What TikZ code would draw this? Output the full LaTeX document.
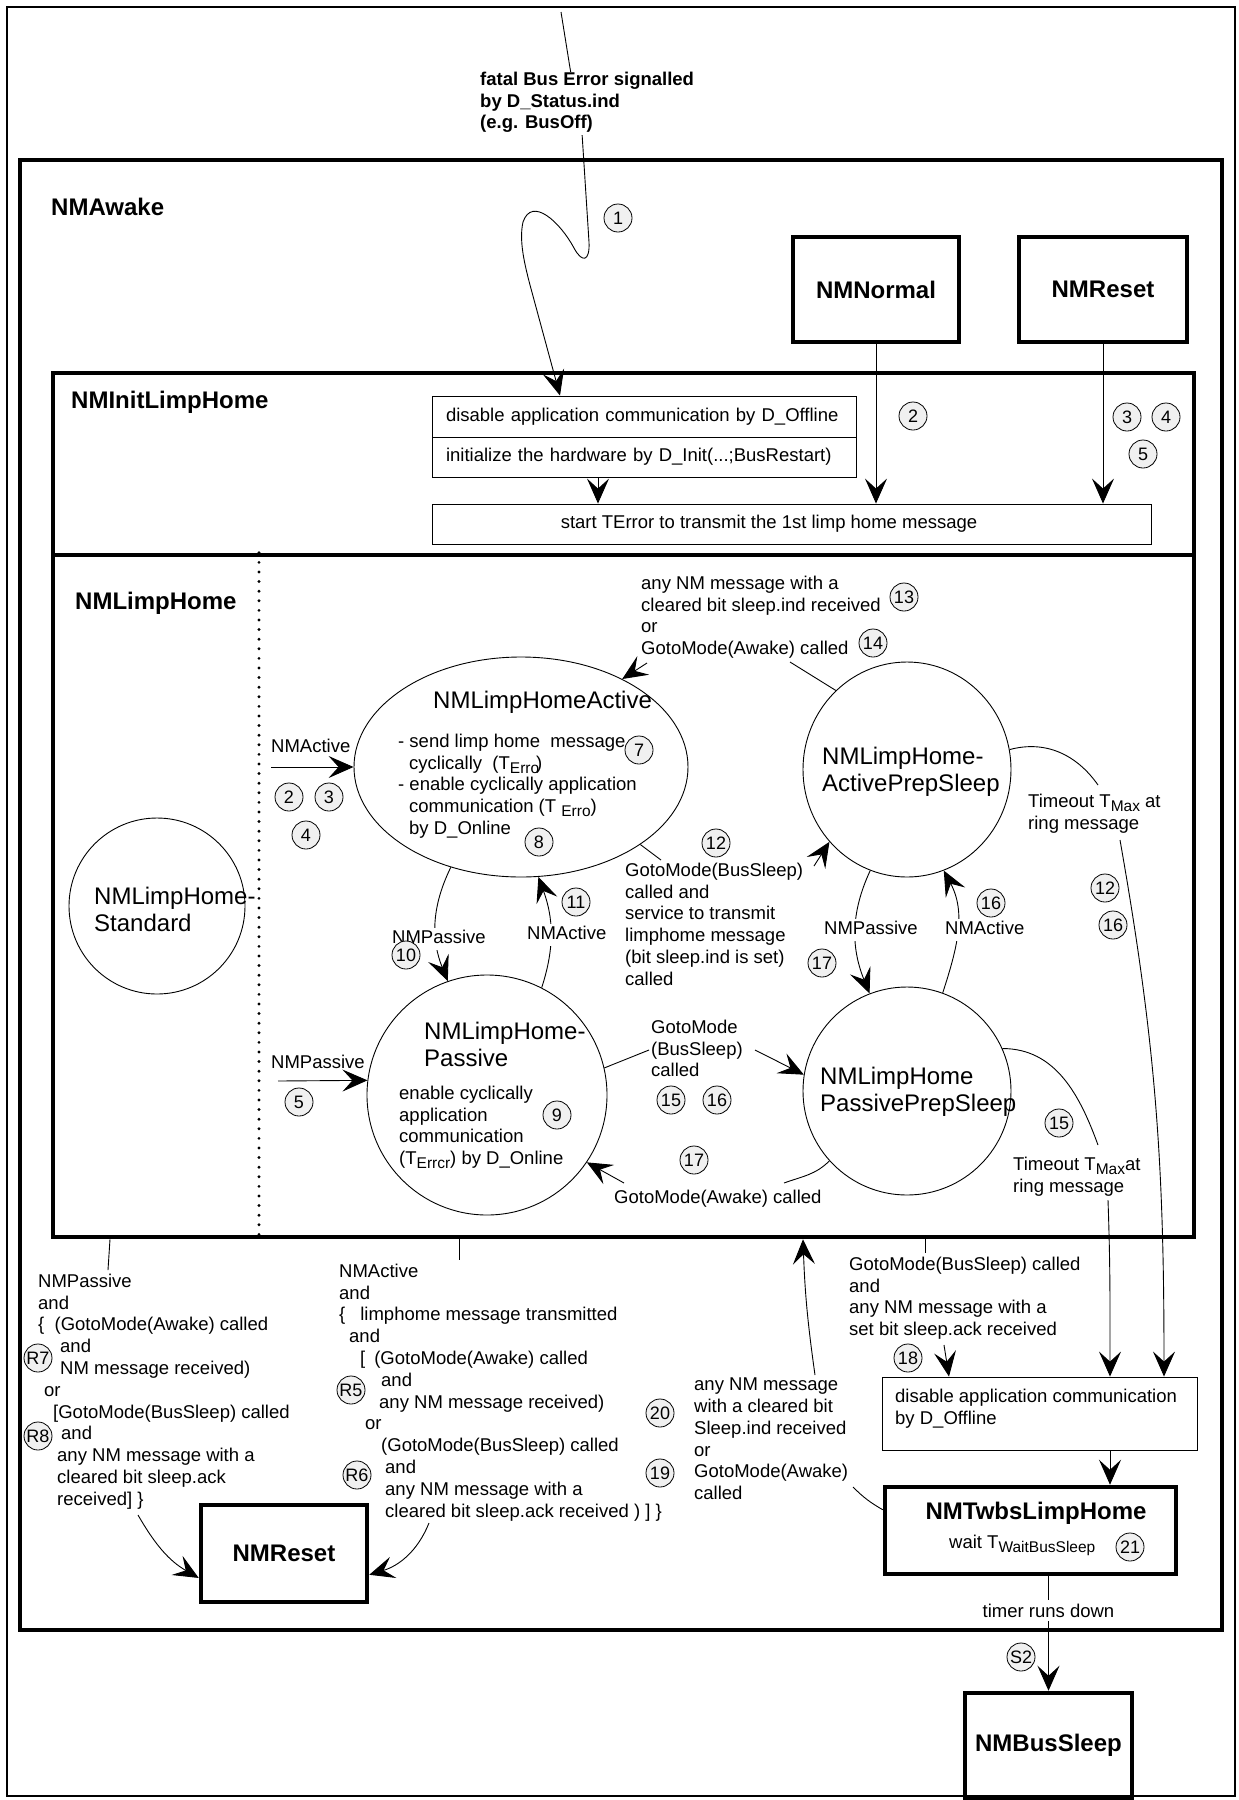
\documentclass[tikz,border=0pt]{standalone}
\usepackage{fontspec}
\setmainfont{Liberation Sans}
\usetikzlibrary{arrows.meta,shapes.geometric,calc}
\newcommand\fsn{\fontsize{18.5}{21.8}\selectfont}
\newcommand\fsb{\fontsize{24}{27}\selectfont}
\newcommand\lowsub[1]{\raisebox{-4pt}{\fontsize{15.5}{15.5}\selectfont #1}}
\definecolor{numfill}{gray}{0.94}

\begin{document}
\begin{tikzpicture}[x=1pt,y=-1pt,
  ln/.style={line width=0.9pt},
  arr/.style={-{Stealth[length=25pt,width=22pt,inset=10pt]}},
  bigbox/.style={draw, line width=4.5pt, rectangle, inner sep=0pt},
  thinbox/.style={draw, line width=0.9pt, rectangle, inner sep=0pt},
  stnode/.style={draw, line width=0.9pt, inner sep=0pt},
  lbl/.style={anchor=north west, inner sep=0pt, align=left, font=\fsn, yshift=9.3pt, execute at begin node=\strut},
  ttl/.style={anchor=north west, inner sep=0pt, align=left, font=\fsb, yshift=10pt, execute at begin node=\strut},
  hdr/.style={anchor=west, inner sep=0pt, font=\fsb\bfseries},
  num/.style={circle, draw, line width=0.8pt, fill=numfill, inner sep=0pt, minimum size=28pt, font=\fontsize{18}{18}\selectfont},
  dotline/.style={line width=3.2pt, line cap=round, dash pattern=on 0pt off 9.6pt}
]
\fill[white] (0,0) rectangle (1239,1800);
\useasboundingbox (0,0) rectangle (1239,1800);

% page frame
\draw[line width=2pt] (7,7) rectangle (1235,1796);

% helper x positions
\coordinate (xDis) at (560,0);
\coordinate (xIni) at (598,0);
\coordinate (xDot) at (259,0);
\coordinate (xL) at (110,0);
\coordinate (xM) at (459,0);
\coordinate (x20) at (803,0);
\coordinate (xA) at (949,0);
\coordinate (xB) at (1110,0);
\coordinate (xC) at (1164,0);

% superstates
\node[bigbox, minimum width=1202pt, minimum height=1470pt] (awake) at (621,895) {};
\node[bigbox, minimum width=1141pt, minimum height=182pt] (init) at (623.5,464) {};
\node[bigbox, minimum width=1141pt, minimum height=682pt] (lh) at (623.5,896) {};
\node[hdr] (tAwake) at (51,207) {NMAwake};
\node[hdr] (tInit) at (71,402) {NMInitLimpHome};
\node[hdr] (tLh) at (75,603) {NMLimpHome};

% other states
\node[bigbox, minimum width=166pt, minimum height=105pt, font=\fsb\bfseries] (nmn) at (876,289.5) {NMNormal};
\node[bigbox, minimum width=168pt, minimum height=105pt, font=\fsb\bfseries] (nmr) at (1103,289.5) {NMReset};
\node[bigbox, minimum width=166pt, minimum height=97pt, font=\fsb\bfseries] (nmr2) at (284,1553.5) {NMReset};
\node[bigbox, minimum width=167pt, minimum height=105pt, font=\fsb\bfseries] (nmbs) at (1048.5,1745.5) {NMBusSleep};
\node[bigbox, minimum width=291pt, minimum height=87pt] (tw) at (1030.5,1530.5) {};
\node[font=\fsb\bfseries, inner sep=0pt] (twT) at (1036,1513) {NMTwbsLimpHome};
\node[anchor=west, font=\fsn, inner sep=0pt] (twW) at (949,1545) {wait T\lowsub{WaitBusSleep}};

% init actions
\node[thinbox, minimum width=424pt, minimum height=41pt, text width=396pt, align=left, font=\fsn] (dis1) at (644,416.5) {disable application communication by D\_Offline};
\node[thinbox, minimum width=424pt, minimum height=40pt, text width=396pt, align=left, font=\fsn] (ini) at (644,457) {initialize the hardware by D\_Init(...;BusRestart)};
\node[thinbox, minimum width=719pt, minimum height=40pt] (st) at (791.5,524) {};
\node[font=\fsn, inner sep=0pt] (stT) at (769,524) {start TError to transmit the 1st limp home message};

% sleep preparation action
\node[thinbox, minimum width=315pt, minimum height=73pt] (db2) at (1039.5,1413.5) {};
\node[lbl] (db2t) at (895,1398) {disable application communication\\by D\_Offline};

% limp home substates
\node[stnode, ellipse, minimum width=334pt, minimum height=220pt] (act) at (521,767) {};
\node[stnode, ellipse, minimum width=208pt, minimum height=215pt] (aps) at (907,769.5) {};
\node[stnode, circle, minimum size=240pt] (pas) at (487,1095) {};
\node[stnode, circle, minimum size=208pt] (pps) at (907,1091) {};
\node[stnode, circle, minimum size=176pt] (std) at (157,906) {};

\node[ttl] (actT) at (433,699) {NMLimpHomeActive};
\node[ttl] (apsT) at (822,757) {NMLimpHome-\\ActivePrepSleep};
\node[ttl] (pasT) at (424,1032) {NMLimpHome-\\Passive};
\node[ttl] (ppsT) at (820,1077) {NMLimpHome\\PassivePrepSleep};
\node[ttl] (stdT) at (94,897) {NMLimpHome-\\Standard};

\node[lbl] (actB) at (398,743) {- send limp home\ \ message\\\hspace*{11pt}cyclically\ \ (T\lowsub{Erro}\kern-3pt)\\- enable cyclically application\\\hspace*{11pt}communication (T \lowsub{Erro})\\\hspace*{11pt}by D\_Online};
\node[lbl] (pasB) at (399,1095) {enable cyclically\\application\\communication\\(T\lowsub{Errcr}) by D\_Online};

% separator between orthogonal regions
\draw[dotline] (xDot |- lh.north) -- (xDot |- lh.south);

% fatal bus error entry
\coordinate (eTop) at (561,12);
\draw[ln,arr] (eTop) -- (570,68) -- (582,133) -- (589,242) .. controls (590,262) and (582,263) .. (574,248) .. controls (560,222) and (532,196) .. (523,222) .. controls (519,240) and (524,262) .. (530,285) -- (xDis |- dis1.north);
\node[lbl, fill=white, font=\fsn\bfseries] (fatal) at (480,81) {fatal Bus Error signalled\\by D\_Status.ind\\(e.g. BusOff)};

% init sequence
\draw[ln,arr] (xIni |- ini.south) -- (xIni |- st.north);
\draw[ln,arr] (nmn.south) -- (nmn.south |- st.north);
\draw[ln,arr] (nmr.south) -- (nmr.south |- st.north);

% entry into limp home
\coordinate (eAct) at (271,767);
\coordinate (ePas) at (278,1081);
\draw[ln,arr] (eAct) -- (act.180);
\draw[ln,arr] (ePas) -- (pas.173);
\node[lbl] (lActIn) at (271,746) {NMActive};
\node[lbl] (lPasIn) at (271,1062) {NMPassive};

% active <-> passive
\draw[ln,arr] (act.235) to[out=244,in=112] (pas.109);
\draw[ln,arr] (pas.63) to[out=72,in=-70] (act.-81);
\node[lbl, fill=white] (l10) at (392,937) {NMPassive};
\node[lbl, fill=white] (l11) at (527,933) {NMActive};

% prep sleep active <-> passive
\draw[ln,arr] (aps.250) to[out=245,in=112] (pps.111);
\draw[ln,arr] (pps.70) to[out=72,in=-62] (aps.-70);
\node[lbl, fill=white] (l17) at (824,928) {NMPassive};
\node[lbl, fill=white] (l16) at (945,928) {NMActive};

% active -> active prep sleep
\coordinate (c12a) at (661,860);
\coordinate (c12b) at (814,866);
\draw[ln] (act.-33) -- (c12a);
\draw[ln,arr] (c12b) -- (aps.223);
\node[lbl] (l12) at (625,872) {GotoMode(BusSleep)\\called and\\service to transmit\\limphome message\\(bit sleep.ind is set)\\called};

% active prep sleep -> active
\coordinate (c13a) at (790,662);
\coordinate (c13b) at (647,663);
\draw[ln] (aps.132) -- (c13a);
\draw[ln,arr] (c13b) -- (act.41);
\node[lbl] (l13) at (641,585) {any NM message with a\\cleared bit sleep.ind received\\or\\GotoMode(Awake) called};

% passive -> passive prep sleep
\coordinate (c15a) at (649,1050);
\coordinate (c15b) at (755,1050);
\draw[ln] (pas.13) -- (c15a);
\draw[ln,arr] (c15b) -- (pps.171);
\node[lbl] (l15) at (651,1029) {GotoMode\\(BusSleep)\\called};

% passive prep sleep -> passive
\coordinate (c17a) at (784,1183);
\coordinate (c17b) at (624,1183);
\draw[ln] (pps.222) to[out=225,in=20] (c17a);
\draw[ln,arr] (c17b) -- (pas.-34);
\node[lbl] (l17b) at (614,1197) {GotoMode(Awake) called};

% timeouts to sleep preparation
\coordinate (cTa1) at (1098,785);
\coordinate (cTa2) at (1120,840);
\draw[ln] (aps.11) to[out=15,in=125] (cTa1);
\draw[ln,arr] (cTa2) to[out=-80,in=90] (xC |- db2.north);
\node[lbl] (lTa) at (1028,803) {Timeout T\lowsub{Max} at\\ring message};
\coordinate (cTb1) at (1098,1145);
\coordinate (cTb2) at (1108,1200);
\draw[ln] (pps.24) to[out=0,in=110] (cTb1);
\draw[ln,arr] (cTb2) to[out=-88,in=90] (xB |- db2.north);
\node[lbl] (lTb) at (1013,1166) {Timeout T\lowsub{Max}at\\ring message};

% limp home -> sleep preparation
\coordinate (c18a) at (925,1253);
\coordinate (c18b) at (944,1345);
\draw[ln] (c18a |- lh.south) -- (c18a);
\draw[ln,arr] (c18b) -- (xA |- db2.north);
\node[lbl] (l18) at (849,1266) {GotoMode(BusSleep) called\\and\\any NM message with a\\set bit sleep.ack received};

% wait bus sleep -> limp home
\coordinate (c20a) at (853,1487);
\coordinate (c20b) at (815,1375);
\draw[ln] (tw.172) to[out=150,in=-45] (c20a);
\draw[ln,arr] (c20b) to[bend left=3] (x20 |- lh.south);
\node[lbl] (l20) at (694,1387) {any NM message\\with a cleared bit\\Sleep.ind received\\or\\GotoMode(Awake)\\called};

% sleep preparation -> wait bus sleep -> bus sleep
\draw[ln,arr] (xB |- db2.south) -- (xB |- tw.north);
\draw[ln,arr] (nmbs.north |- tw.south) -- node[pos=0.3, fill=white, inner xsep=1pt, inner ysep=4pt, font=\fsn] (lTimer) {timer runs down} (nmbs.north);

% limp home -> reset
\coordinate (cR7a) at (108,1270);
\coordinate (cR7b) at (138,1515);
\draw[ln] (xL |- lh.south) -- (cR7a);
\draw[ln,arr] (cR7b) to[out=-60,in=150] (nmr2.196);
\node[lbl] (lR7) at (38,1283) {NMPassive\\and\\\{\ \ (GotoMode(Awake) called\\\hspace*{22pt}and\\\hspace*{22pt}NM message received)\\\hspace*{6pt}or\\\hspace*{15pt}[GotoMode(BusSleep) called\\\hspace*{23pt}and\\\hspace*{19pt}any NM message with a\\\hspace*{19pt}cleared bit sleep.ack\\\hspace*{19pt}received] \}};

\coordinate (cR5a) at (459,1260);
\coordinate (cR5b) at (429,1523);
\draw[ln] (xM |- lh.south) -- (cR5a);
\draw[ln,arr] (cR5b) to[out=-112,in=17] (nmr2.-14);
\node[lbl] (lR5) at (339,1273) {NMActive\\and\\\{\hspace*{15pt}limphome message transmitted\\\hspace*{10pt}and\\\hspace*{21pt}[\hspace*{9pt}(GotoMode(Awake) called\\\hspace*{42pt}and\\\hspace*{40pt}any NM message received)\\\hspace*{26pt}or\\\hspace*{42pt}(GotoMode(BusSleep) called\\\hspace*{46pt}and\\\hspace*{46pt}any NM message with a\\\hspace*{46pt}cleared bit sleep.ack received ) ] \}};

% transition numbers
\node[num] (n1) at (618,218) {1};
\node[num] (n2t) at (913,416) {2};
\node[num] (n3t) at (1127,417) {3};
\node[num] (n4t) at (1166,417) {4};
\node[num] (n5t) at (1143,454) {5};
\node[num] (n2e) at (289,797) {2};
\node[num] (n3e) at (329,797) {3};
\node[num] (n4e) at (306,835) {4};
\node[num] (n5e) at (299,1102) {5};
\node[num] (n7) at (639,750) {7};
\node[num] (n8) at (539,842) {8};
\node[num] (n9) at (557,1115) {9};
\node[num] (n10) at (406,955) {10};
\node[num] (n11) at (576,902) {11};
\node[num] (n12a) at (716,843) {12};
\node[num] (n13) at (904,597) {13};
\node[num] (n14) at (873,643) {14};
\node[num] (n16a) at (991,903) {16};
\node[num] (n17a) at (822,963) {17};
\node[num] (n12b) at (1105,888) {12};
\node[num] (n16b) at (1113,925) {16};
\node[num] (n15a) at (671,1100) {15};
\node[num] (n16c) at (717,1100) {16};
\node[num] (n17b) at (694,1160) {17};
\node[num] (n15b) at (1059,1123) {15};
\node[num] (n18) at (908,1358) {18};
\node[num] (n20) at (660,1413) {20};
\node[num] (n19) at (660,1473) {19};
\node[num] (n21) at (1130,1547) {21};
\node[num] (nR7) at (38,1358) {R7};
\node[num] (nR8) at (38,1436) {R8};
\node[num] (nR5) at (351,1390) {R5};
\node[num] (nR6) at (357,1475) {R6};
\node[num] (nS2) at (1021,1657) {S2};
\end{tikzpicture}
\end{document}
